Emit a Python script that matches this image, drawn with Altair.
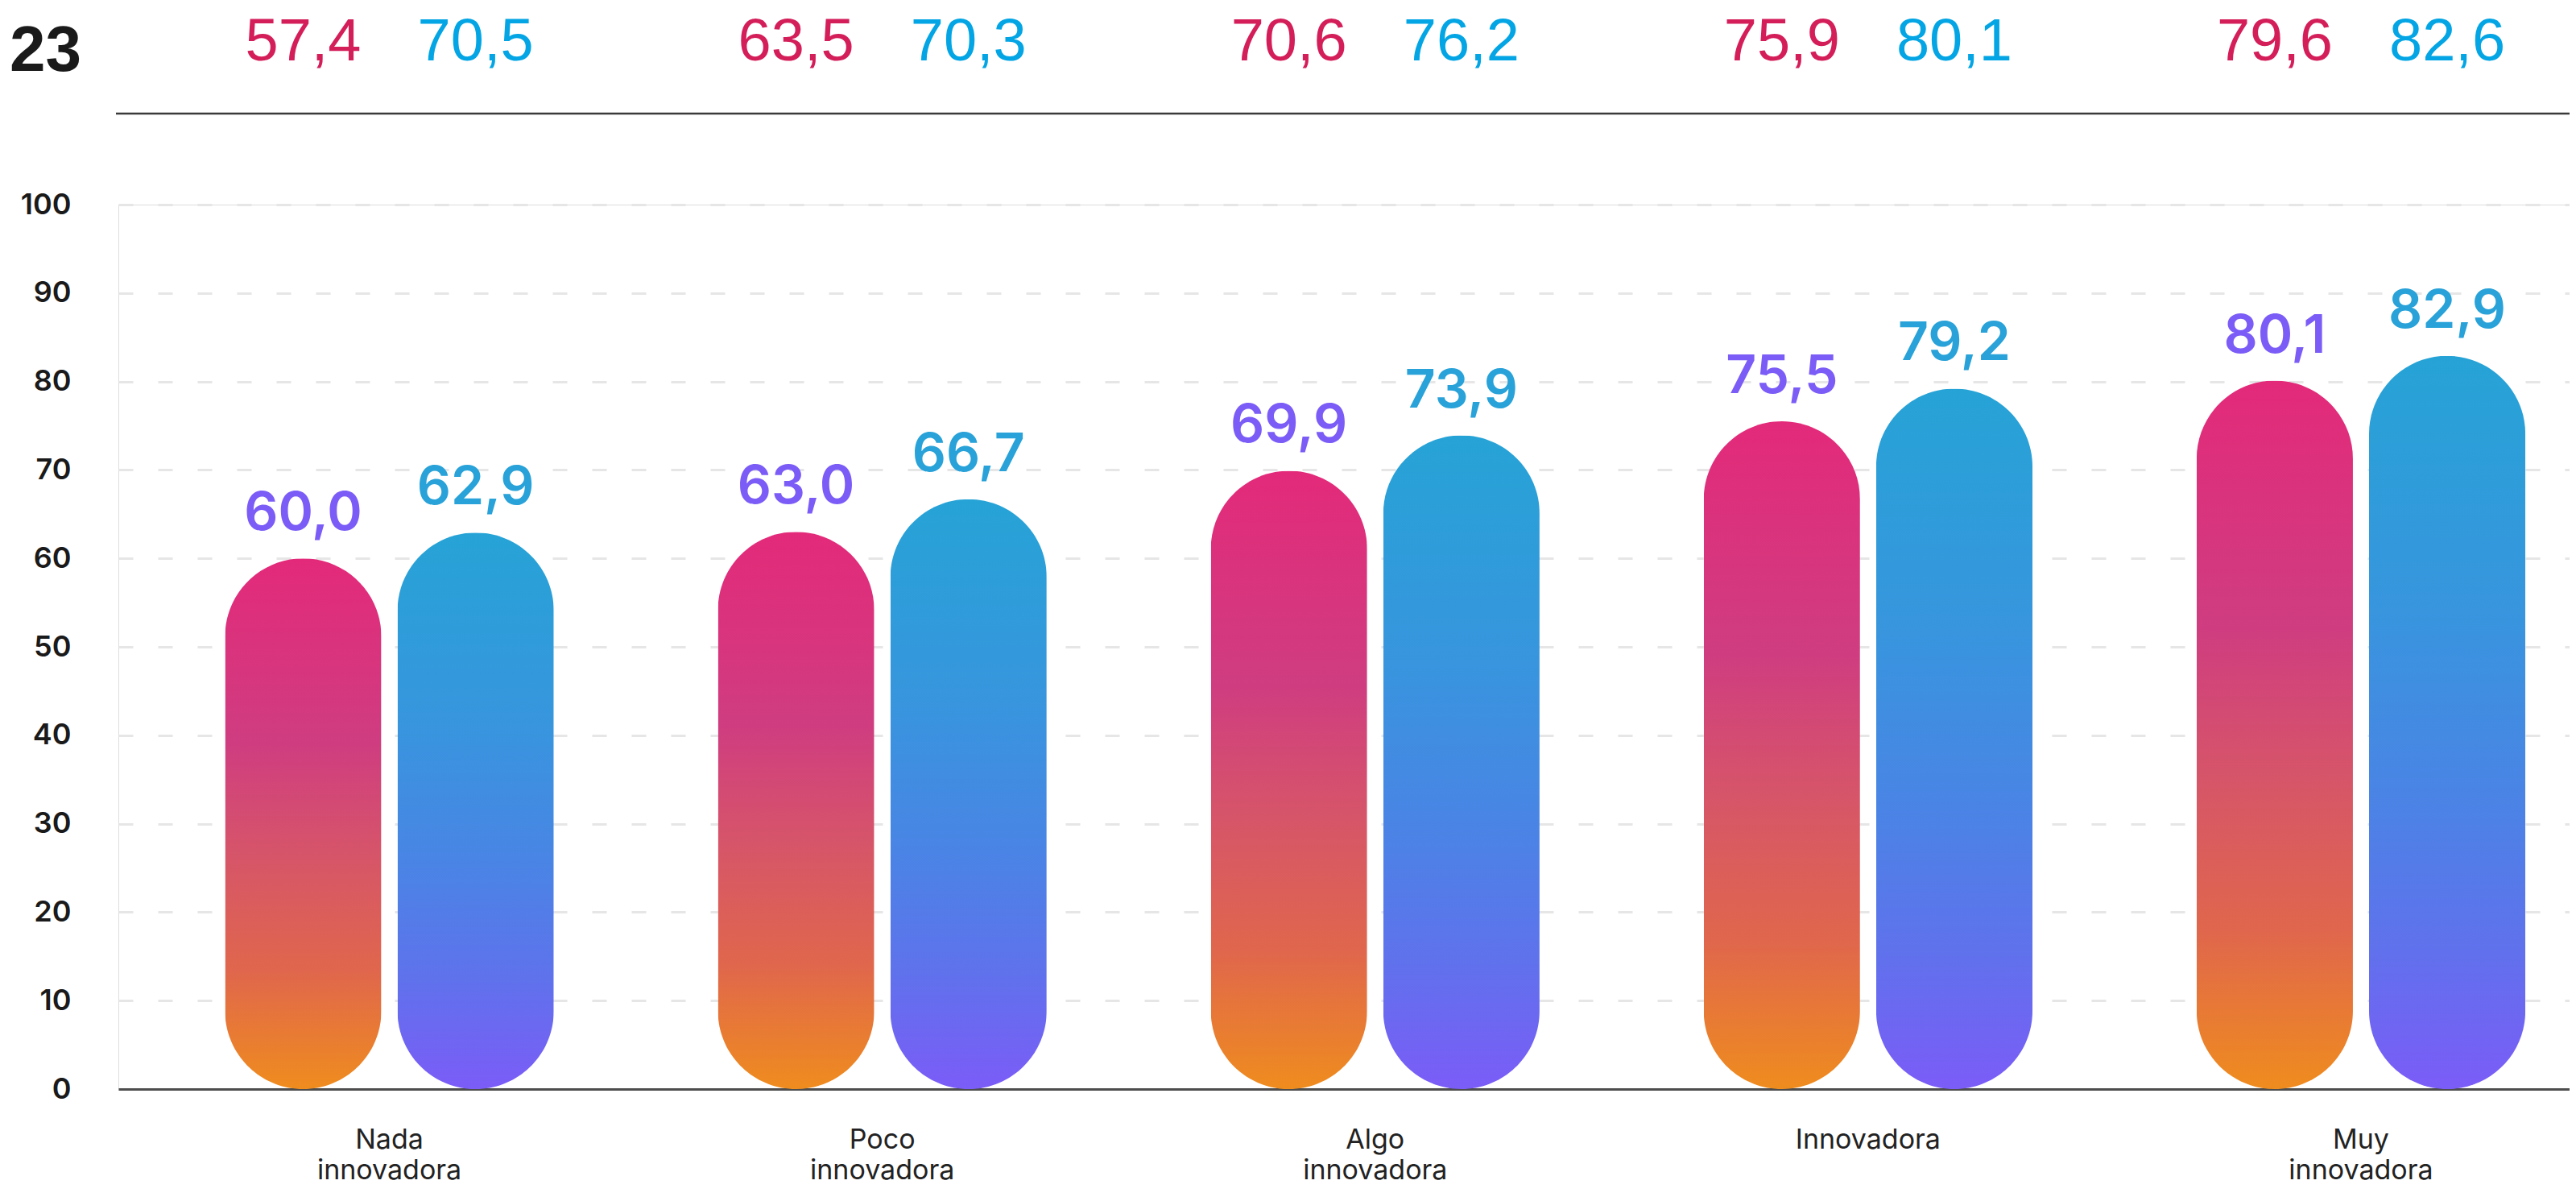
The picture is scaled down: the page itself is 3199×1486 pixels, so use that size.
import altair as alt
import pandas as pd

# ---------------- data ----------------
categories = ["Nada\ninnovadora", "Poco\ninnovadora", "Algo\ninnovadora", "Innovadora", "Muy\ninnovadora"]
series = ["Serie A", "Serie B"]
bar_a = [60.0, 63.0, 69.9, 75.5, 80.1]
bar_b = [62.9, 66.7, 73.9, 79.2, 82.9]
top_a = [57.4, 63.5, 70.6, 75.9, 79.6]
top_b = [70.5, 70.3, 76.2, 80.1, 82.6]
heading = "23"
y_ticks = [0, 10, 20, 30, 40, 50, 60, 70, 80, 90, 100]


def fmt(v):
    return f"{v:.1f}".replace(".", ",")


rows = []
for i, c in enumerate(categories):
    rows.append({"cat": c, "series": series[0], "value": bar_a[i], "label": fmt(bar_a[i]),
                 "top": top_a[i], "top_label": fmt(top_a[i])})
    rows.append({"cat": c, "series": series[1], "value": bar_b[i], "label": fmt(bar_b[i]),
                 "top": top_b[i], "top_label": fmt(top_b[i])})
df = pd.DataFrame(rows)

W, H = 3044, 1098

grad_a = alt.Gradient(
    gradient="linear", x1=0, x2=0, y1=0, y2=1,
    stops=[
        alt.GradientStop(offset=0.0, color="#e32a7a"),
        alt.GradientStop(offset=0.35, color="#cf3d80"),
        alt.GradientStop(offset=0.55, color="#d6546a"),
        alt.GradientStop(offset=0.78, color="#e0674c"),
        alt.GradientStop(offset=1.0, color="#ef8c1e"),
    ],
)
grad_b = alt.Gradient(
    gradient="linear", x1=0, x2=0, y1=0, y2=1,
    stops=[
        alt.GradientStop(offset=0.0, color="#26a3d6"),
        alt.GradientStop(offset=0.35, color="#3895de"),
        alt.GradientStop(offset=0.6, color="#4a84e5"),
        alt.GradientStop(offset=0.8, color="#5f72ec"),
        alt.GradientStop(offset=1.0, color="#7b5cf7"),
    ],
)

x_enc = alt.X(
    "cat:N", sort=categories, title=None,
    scale=alt.Scale(paddingInner=0.333, paddingOuter=0.153, align=0.707),
    axis=alt.Axis(
        labelExpr="split(datum.label, '\\n')",
        labelFont="Inter", labelFontSize=34, labelColor="#222222",
        labelPadding=46, labelAngle=0, labelLineHeight=38, labelBaseline="top",
        labelLimit=0, labelOverlap=False,
        ticks=False, domain=True, domainColor="#4d4d4d", domainWidth=3, grid=False,
    ),
)
xo_enc = alt.XOffset(
    "series:N", sort=series,
    scale=alt.Scale(domain=series, paddingInner=0.0935, paddingOuter=0),
)
y_enc = alt.Y(
    "value:Q", title=None,
    scale=alt.Scale(domain=[0, 100], nice=False),
    axis=alt.Axis(
        values=y_ticks, labelFont="Inter", labelFontSize=36, labelFontWeight=600,
        labelColor="#1a1a1a", labelPadding=59, ticks=False, domain=False,
        grid=True, gridDash=[18, 31], gridColor="#e6e6e6", gridWidth=3,
    ),
)

base = alt.Chart(df).encode(x=x_enc, xOffset=xo_enc)

bars_a = base.transform_filter(alt.datum.series == series[0]).mark_bar(
    cornerRadius=97, color=grad_a).encode(y=y_enc)
bars_b = base.transform_filter(alt.datum.series == series[1]).mark_bar(
    cornerRadius=97, color=grad_b).encode(y=y_enc)

lab_a = base.transform_filter(alt.datum.series == series[0]).mark_text(
    dy=-35, baseline="alphabetic", font="Inter", fontSize=66, fontWeight=600,
    color="#7b5cf7").encode(y=alt.Y("value:Q"), text="label:N")
lab_b = base.transform_filter(alt.datum.series == series[1]).mark_text(
    dy=-35, baseline="alphabetic", font="Inter", fontSize=66, fontWeight=600,
    color="#28a2d8").encode(y=alt.Y("value:Q"), text="label:N")

top_txt_a = base.transform_filter(alt.datum.series == series[0]).mark_text(
    baseline="alphabetic", font="Liberation Sans", fontSize=74,
    color="#d41e5a").encode(y=alt.value(-179), text="top_label:N")
top_txt_b = base.transform_filter(alt.datum.series == series[1]).mark_text(
    baseline="alphabetic", font="Liberation Sans", fontSize=74,
    color="#03a5e4").encode(y=alt.value(-179), text="top_label:N")

one = pd.DataFrame({"k": [heading]})
top_rule = alt.Chart(one).mark_rule(color="#3a3a3a", strokeWidth=2.5).encode(
    x=alt.value(-3), x2=alt.value(W + 20), y=alt.value(-113))
head = alt.Chart(one).mark_text(
    align="left", baseline="alphabetic", font="Liberation Sans", fontSize=80,
    fontWeight="bold", color="#1a1a1a").encode(
    x=alt.value(-135), y=alt.value(-166), text="k:N")

chart = alt.layer(
    bars_a, bars_b, lab_a, lab_b, top_txt_a, top_txt_b, top_rule, head
).properties(
    width=W, height=H,
    padding={"left": 139, "top": 246, "right": 0, "bottom": 126},
    autosize=alt.AutoSizeParams(type="none"),
).configure_view(stroke=None).configure(background="white")

chart.save("out.html", embed_options={"renderer": "svg", "actions": False})
